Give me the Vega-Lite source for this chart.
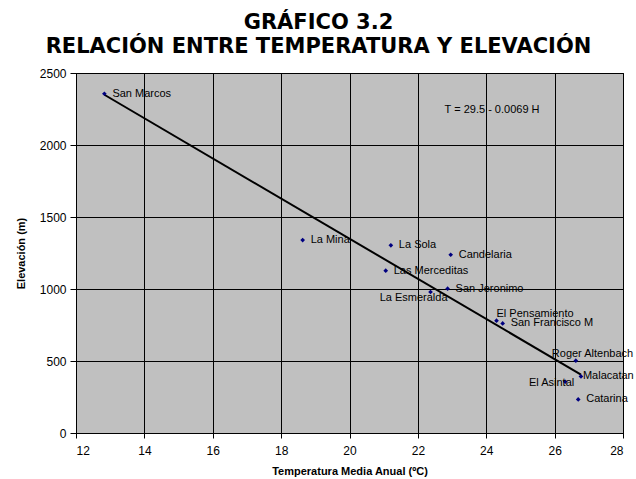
{
  "$schema": "https://vega.github.io/schema/vega-lite/v6.json",
  "width": 547,
  "height": 360,
  "autosize": {"type": "none"},
  "padding": {"left": 76, "top": 73, "right": 13, "bottom": 46},
  "background": "white",
  "config": {
    "view": {"fill": "#C0C0C0", "stroke": "#000000", "strokeWidth": 1},
    "font": "Liberation Sans",
    "text": {"font": "Liberation Sans", "fontSize": 11, "color": "#000000"}
  },
  "title": {
    "text": ["GRÁFICO 3.2", "RELACIÓN ENTRE TEMPERATURA Y ELEVACIÓN"],
    "font": "DejaVu Sans",
    "fontSize": 21,
    "fontWeight": "bold",
    "color": "#000000",
    "anchor": "middle",
    "frame": "group",
    "dx": -31,
    "dy": 29,
    "lineHeight": 24,
    "baseline": "bottom",
    "offset": 18
  },
  "datasets": {
    "stations": [
      {"estacion": "San Marcos", "T": 12.83, "H": 2356},
      {"estacion": "La Mina", "T": 18.63, "H": 1340},
      {"estacion": "La Sola", "T": 21.21, "H": 1303},
      {"estacion": "Candelaria", "T": 22.96, "H": 1238},
      {"estacion": "Las Merceditas", "T": 21.06, "H": 1127},
      {"estacion": "San Jeronimo", "T": 22.87, "H": 1002},
      {"estacion": "La Esmeralda", "T": 22.37, "H": 979},
      {"estacion": "El Pensamiento", "T": 24.30, "H": 780},
      {"estacion": "San Francisco M", "T": 24.48, "H": 761},
      {"estacion": "Roger Altenbach", "T": 26.62, "H": 502},
      {"estacion": "Malacatan", "T": 26.77, "H": 393},
      {"estacion": "El Asintal", "T": 26.31, "H": 356},
      {"estacion": "Catarina", "T": 26.69, "H": 233}
    ],
    "ecuacion": [{"T": 24.17, "H": 2245, "texto": "T = 29.5 - 0.0069 H"}]
  },
  "encoding": {
    "x": {
      "field": "T",
      "type": "quantitative",
      "scale": {"domain": [12, 28], "nice": false, "zero": false},
      "axis": {
        "values": [12, 14, 16, 18, 20, 22, 24, 26, 28],
        "format": "d",
        "title": "Temperatura Media Anual (ºC)",
        "titleFont": "Liberation Sans",
        "titleFontSize": 11,
        "titleFontWeight": "bold",
        "titleColor": "#000000",
        "titlePadding": 9,
        "labelFont": "Liberation Sans",
        "labelFontSize": 12,
        "labelColor": "#000000",
        "labelPadding": 7,
        "tickSize": 5,
        "tickColor": "#000000",
        "domainColor": "#000000",
        "grid": true,
        "gridColor": "#000000",
        "gridWidth": 1,
        "gridOpacity": 1
      }
    },
    "y": {
      "field": "H",
      "type": "quantitative",
      "scale": {"domain": [0, 2500], "nice": false},
      "axis": {
        "values": [0, 500, 1000, 1500, 2000, 2500],
        "format": "d",
        "title": "Elevación (m)",
        "titleFont": "Liberation Sans",
        "titleFontSize": 11,
        "titleFontWeight": "bold",
        "titleColor": "#000000",
        "titlePadding": 13,
        "labelFont": "Liberation Sans",
        "labelFontSize": 12,
        "labelColor": "#000000",
        "labelPadding": 4,
        "tickSize": 6,
        "tickColor": "#000000",
        "domainColor": "#000000",
        "grid": true,
        "gridColor": "#000000",
        "gridWidth": 1,
        "gridOpacity": 1
      }
    }
  },
  "layer": [
    {
      "data": {"name": "stations"},
      "transform": [{"regression": "H", "on": "T"}],
      "mark": {"type": "line", "color": "#000000", "strokeWidth": 2}
    },
    {
      "data": {"name": "stations"},
      "mark": {"type": "point", "shape": "diamond", "filled": true, "size": 22, "color": "#000080", "opacity": 1}
    },
    {
      "data": {"name": "stations"},
      "transform": [{"filter": {"field": "estacion", "oneOf": ["San Marcos", "La Mina", "La Sola", "Candelaria", "Las Merceditas", "San Jeronimo", "San Francisco M", "Catarina"]}}],
      "mark": {"type": "text", "align": "left", "baseline": "middle", "dx": 8},
      "encoding": {"text": {"field": "estacion"}}
    },
    {
      "data": {"name": "stations"},
      "transform": [{"filter": {"field": "estacion", "equal": "Malacatan"}}],
      "mark": {"type": "text", "align": "left", "baseline": "middle", "dx": 2},
      "encoding": {"text": {"field": "estacion"}}
    },
    {
      "data": {"name": "stations"},
      "transform": [{"filter": {"field": "estacion", "equal": "El Pensamiento"}}],
      "mark": {"type": "text", "align": "left", "baseline": "middle", "dx": 0, "dy": -7},
      "encoding": {"text": {"field": "estacion"}}
    },
    {
      "data": {"name": "stations"},
      "transform": [{"filter": {"field": "estacion", "equal": "Roger Altenbach"}}],
      "mark": {"type": "text", "align": "left", "baseline": "middle", "dx": -24, "dy": -7},
      "encoding": {"text": {"field": "estacion"}}
    },
    {
      "data": {"name": "stations"},
      "transform": [{"filter": {"field": "estacion", "equal": "El Asintal"}}],
      "mark": {"type": "text", "align": "right", "baseline": "middle", "dx": 9, "dy": 1},
      "encoding": {"text": {"field": "estacion"}}
    },
    {
      "data": {"name": "stations"},
      "transform": [{"filter": {"field": "estacion", "equal": "La Esmeralda"}}],
      "mark": {"type": "text", "align": "right", "baseline": "middle", "dx": 17, "dy": 6},
      "encoding": {"text": {"field": "estacion"}}
    },
    {
      "data": {"name": "ecuacion"},
      "mark": {"type": "text", "align": "center", "baseline": "middle"},
      "encoding": {"text": {"field": "texto"}}
    }
  ]
}
